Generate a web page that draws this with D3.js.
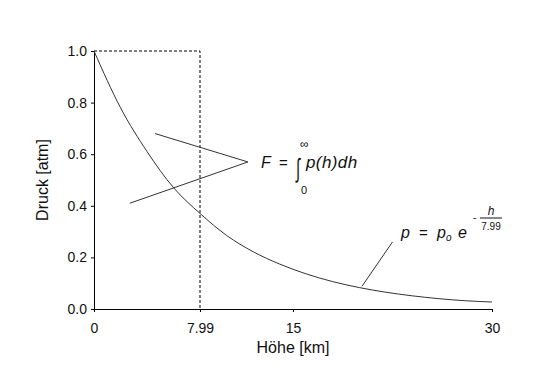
<!DOCTYPE html>
<html>
<head>
<meta charset="utf-8">
<script src="https://cdn.jsdelivr.net/npm/d3@7"></script>
<style>
  body { margin: 0; background: #fff; }
  text { font-family: "Liberation Sans", Arial, sans-serif; fill: #111; }
</style>
</head>
<body>
<svg id="chart" width="550" height="371"></svg>
<script>
// Werte
let heights = [0, 2, 4, 6, 8, 10, 12, 14, 16, 18, 20, 22, 24, 26, 28, 30];
let pressures = [1.0, 0.78, 0.61, 0.47, 0.37, 0.285, 0.222, 0.174, 0.136, 0.106, 0.083, 0.065, 0.051, 0.04, 0.032, 0.027];
let xTicks = [0, 7.99, 15, 30];
let yTicks = [0, 0.2, 0.4, 0.6, 0.8, 1.0];
let scaleHeight = 7.99;
// Hinweislinien (Höhe, Druck)
let integralLines = [[[4.6, 0.68], [11.6, 0.57]], [[2.7, 0.41], [11.6, 0.57]]];
let formulaLine = [[22.5, 0.26], [20.2, 0.088]];

let svg = d3.select("#chart");
let margin = { left: 94, right: 58, top: 51, bottom: 62 };
let width = 550 - margin.left - margin.right;
let height = 371 - margin.top - margin.bottom;

let x = d3.scaleLinear().domain([0, 30]).range([margin.left, margin.left + width]);
let y = d3.scaleLinear().domain([0, 1]).range([margin.top + height, margin.top]);

// Achsen
svg.append("g")
    .attr("transform", `translate(0,${margin.top + height})`)
    .call(d3.axisBottom(x).tickValues(xTicks).tickSize(3).tickFormat(d => d === scaleHeight ? "7.99" : d))
    .call(g => g.selectAll("text").attr("dy", "1.25em").style("font-size", "14px"))
    .call(g => g.select(".domain").attr("stroke", "#000"));

svg.append("g")
    .attr("transform", `translate(${margin.left},0)`)
    .call(d3.axisLeft(y).tickValues(yTicks).tickSize(3).tickFormat(d3.format(".1f")))
    .call(g => g.selectAll("text").attr("x", -7).style("font-size", "14px"))
    .call(g => g.select(".domain").attr("stroke", "#000"));

svg.selectAll(".tick text").style("font-family", "Liberation Sans, Arial, sans-serif").attr("fill", "#111");

// Achsentitel
svg.append("text")
    .attr("x", x(15))
    .attr("y", margin.top + height + 44)
    .attr("text-anchor", "middle")
    .style("font-size", "16px")
    .text("Höhe [km]");

svg.append("text")
    .attr("transform", `translate(48,${y(0.5)}) rotate(-90)`)
    .attr("text-anchor", "middle")
    .style("font-size", "16px")
    .text("Druck [atm]");

// gestrichelte Linien bei h = 7.99
svg.append("path")
    .attr("d", d3.line()([[x(0), y(1)], [x(scaleHeight), y(1)], [x(scaleHeight), y(0)]]))
    .attr("fill", "none")
    .attr("stroke", "#000")
    .attr("stroke-width", 1)
    .attr("stroke-dasharray", "3,2");

// Druckkurve
let line = d3.line()
    .x((d, i) => x(heights[i]))
    .y(d => y(d))
    .curve(d3.curveMonotoneX);

svg.append("path")
    .attr("d", line(pressures))
    .attr("fill", "none")
    .attr("stroke", "#333")
    .attr("stroke-width", 1);

// Hinweislinien
let pointLine = d3.line().x(d => x(d[0])).y(d => y(d[1]));
integralLines.concat([formulaLine]).forEach(l => {
    svg.append("path")
        .attr("d", pointLine(l))
        .attr("fill", "none")
        .attr("stroke", "#333")
        .attr("stroke-width", 1);
});

// Formel F = Integral
let fx = 261, fy = 168;
svg.append("text").attr("x", fx).attr("y", fy).style("font-size", "16px").style("font-style", "italic").text("F");
svg.append("text").attr("x", fx + 18).attr("y", fy).style("font-size", "15px").text("=");
// Integralzeichen schmal und hoch
svg.append("text").attr("transform", `translate(${fx + 35},${fy + 9}) scale(0.8,1.45)`)
    .style("font-size", "18px").text("∫");
svg.append("text").attr("x", fx + 39).attr("y", fy - 20).style("font-size", "12px").text("∞");
svg.append("text").attr("x", fx + 40).attr("y", fy + 26).style("font-size", "11px").text("0");
svg.append("text").attr("x", fx + 45).attr("y", fy).style("font-size", "17px").style("font-style", "italic")
    .style("letter-spacing", "0.4px").text("p(h)dh");

// Formel p = p_o e^(-h/7.99)
let px = 401, py = 238;
svg.append("text").attr("x", px).attr("y", py).style("font-size", "16px").style("font-style", "italic").text("p");
svg.append("text").attr("x", px + 18).attr("y", py).style("font-size", "15px").text("=");
svg.append("text").attr("x", px + 36).attr("y", py).style("font-size", "16px").style("font-style", "italic").text("p");
svg.append("text").attr("x", px + 45).attr("y", py + 3).style("font-size", "10px").style("font-style", "italic").text("o");
svg.append("text").attr("x", px + 57).attr("y", py).style("font-size", "16px").style("font-style", "italic").text("e");
svg.append("text").attr("x", px + 72).attr("y", py - 17).style("font-size", "10px").text("-");
svg.append("text").attr("x", px + 90).attr("y", py - 23).attr("text-anchor", "middle").style("font-size", "12px").style("font-style", "italic").text("h");
svg.append("line").attr("x1", px + 79).attr("x2", px + 101).attr("y1", py - 20).attr("y2", py - 20).attr("stroke", "#111").attr("stroke-width", 1);
svg.append("text").attr("x", px + 90).attr("y", py - 8).attr("text-anchor", "middle").style("font-size", "10px").text("7.99");
</script>
</body>
</html>
